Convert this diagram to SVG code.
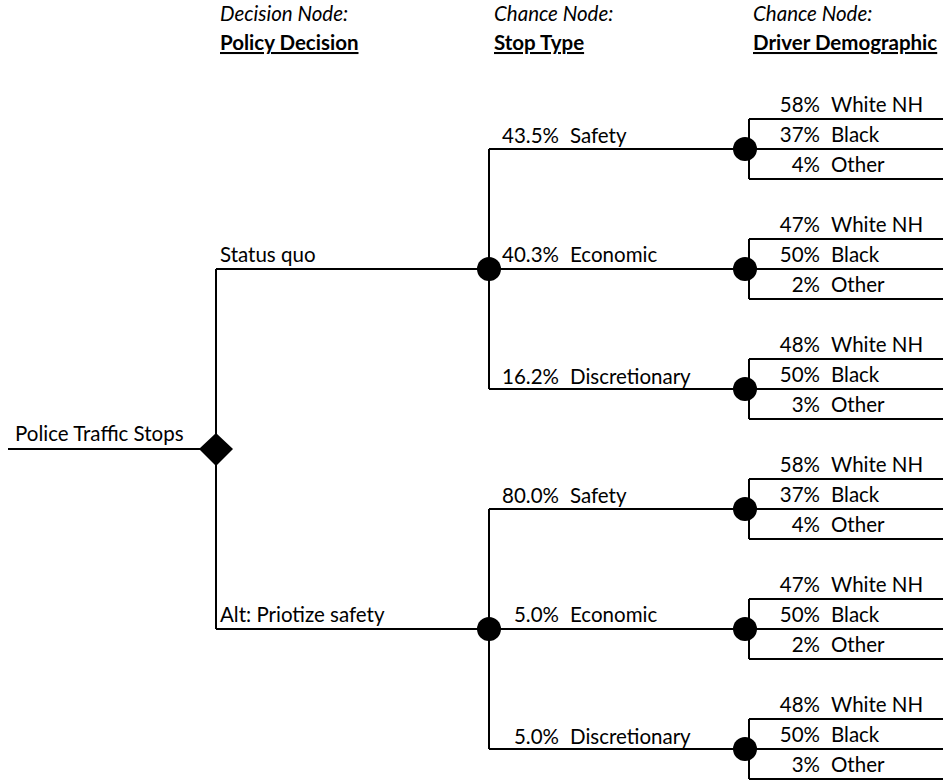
<svg xmlns="http://www.w3.org/2000/svg" width="943" height="780" viewBox="0 0 943 780">
<style>
text{font-family:Lato,"Open Sans","DejaVu Sans",sans-serif;font-size:20.5px;fill:#000}
.it{font-style:italic}
.bd{font-weight:bold;text-decoration:underline}
.r{text-anchor:end}
.ln{stroke:#000;stroke-width:2;fill:none}
.dot{fill:#000}
</style>
<rect width="943" height="780" fill="#fff"/>
<g id="headers">
<text class="it" x="220" y="21">Decision Node:</text>
<text class="bd" x="220" y="50">Policy Decision</text>
<text class="it" x="494" y="21">Chance Node:</text>
<text class="bd" x="494" y="50">Stop Type</text>
<text class="it" x="753" y="21">Chance Node:</text>
<text class="bd" x="753" y="50">Driver Demographic</text>
</g>
<g id="connectors">
<path class="ln" d="M8 449H216M216 269V629M216 269H489M216 629H489"/>
<path class="ln" d="M489 149V389M489 149H745M489 269H745M489 389H745"/>
<path class="ln" d="M489 509V749M489 509H745M489 629H745M489 749H745"/>
<path class="ln" d="M749 119V179M749 119H943M749 149H943M749 179H943"/>
<path class="ln" d="M749 239V299M749 239H943M749 269H943M749 299H943"/>
<path class="ln" d="M749 359V419M749 359H943M749 389H943M749 419H943"/>
<path class="ln" d="M749 479V539M749 479H943M749 509H943M749 539H943"/>
<path class="ln" d="M749 599V659M749 599H943M749 629H943M749 659H943"/>
<path class="ln" d="M749 719V779M749 719H943M749 749H943M749 779H943"/>
</g>
<g id="root"><text x="15" y="441">Police Traffic Stops</text></g>
<g id="decision"><polygon class="dot" points="216,433 233,449 216,466 199,449"/>
<text x="220" y="262">Status quo</text>
<text x="220" y="622">Alt: Priotize safety</text></g>
<g id="chance-sq"><circle class="dot" cx="489" cy="269" r="12"/>
<text class="r" x="559" y="143">43.5%</text><text x="570" y="143">Safety</text>
<text class="r" x="559" y="262">40.3%</text><text x="570" y="262">Economic</text>
<text class="r" x="559" y="384">16.2%</text><text x="570" y="384">Discretionary</text></g>
<g id="chance-alt"><circle class="dot" cx="489" cy="629" r="12"/>
<text class="r" x="559" y="503">80.0%</text><text x="570" y="503">Safety</text>
<text class="r" x="559" y="622">5.0%</text><text x="570" y="622">Economic</text>
<text class="r" x="559" y="744">5.0%</text><text x="570" y="744">Discretionary</text></g>
<g id="demo-sq-safety"><circle class="dot" cx="745" cy="149" r="12"/>
<text class="r" x="820" y="112">58%</text><text x="831" y="112">White NH</text>
<text class="r" x="820" y="142">37%</text><text x="831" y="142">Black</text>
<text class="r" x="820" y="172">4%</text><text x="831" y="172">Other</text></g>
<g id="demo-sq-economic"><circle class="dot" cx="745" cy="269" r="12"/>
<text class="r" x="820" y="232">47%</text><text x="831" y="232">White NH</text>
<text class="r" x="820" y="262">50%</text><text x="831" y="262">Black</text>
<text class="r" x="820" y="292">2%</text><text x="831" y="292">Other</text></g>
<g id="demo-sq-discretionary"><circle class="dot" cx="745" cy="389" r="12"/>
<text class="r" x="820" y="352">48%</text><text x="831" y="352">White NH</text>
<text class="r" x="820" y="382">50%</text><text x="831" y="382">Black</text>
<text class="r" x="820" y="412">3%</text><text x="831" y="412">Other</text></g>
<g id="demo-alt-safety"><circle class="dot" cx="745" cy="509" r="12"/>
<text class="r" x="820" y="472">58%</text><text x="831" y="472">White NH</text>
<text class="r" x="820" y="502">37%</text><text x="831" y="502">Black</text>
<text class="r" x="820" y="532">4%</text><text x="831" y="532">Other</text></g>
<g id="demo-alt-economic"><circle class="dot" cx="745" cy="629" r="12"/>
<text class="r" x="820" y="592">47%</text><text x="831" y="592">White NH</text>
<text class="r" x="820" y="622">50%</text><text x="831" y="622">Black</text>
<text class="r" x="820" y="652">2%</text><text x="831" y="652">Other</text></g>
<g id="demo-alt-discretionary"><circle class="dot" cx="745" cy="749" r="12"/>
<text class="r" x="820" y="712">48%</text><text x="831" y="712">White NH</text>
<text class="r" x="820" y="742">50%</text><text x="831" y="742">Black</text>
<text class="r" x="820" y="772">3%</text><text x="831" y="772">Other</text></g>
</svg>
